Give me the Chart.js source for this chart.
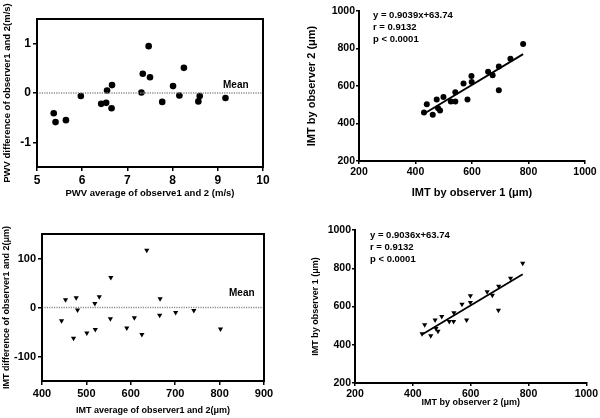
<!DOCTYPE html>
<html><head><meta charset="utf-8">
<script src="https://cdn.jsdelivr.net/npm/chart.js@4"></script>
<style>
html,body{margin:0;padding:0;background:#fff;}
#wrap{position:relative;width:600px;height:418px;}
canvas{position:absolute;}
</style></head>
<body><div id="wrap">
<canvas id="c1" width="300" height="210" style="left:0;top:0"></canvas>
<canvas id="c2" width="300" height="210" style="left:300px;top:0"></canvas>
<canvas id="c3" width="300" height="208" style="left:0;top:210px"></canvas>
<canvas id="c4" width="300" height="208" style="left:300px;top:210px"></canvas>
</div>
<script>
// ---- Data ----
const pwvAvg  = [5.37,5.41,5.64,5.97,6.42,6.53,6.55,6.65,6.66,7.31,7.34,7.47,7.50,7.77,8.01,8.15,8.25,8.60,8.57,9.17];
const pwvDiff = [-0.41,-0.59,-0.55,-0.06,-0.22,-0.20,0.05,-0.31,0.16,0.01,0.39,0.95,0.32,-0.18,0.14,-0.05,0.51,-0.06,-0.17,-0.10];
const pwvMeanX = [5, 10];
const pwvMeanY = [0, 0];
const pwvXTicks = [5,6,7,8,9,10];
const pwvYTicks = [-1,0,1];

const imtObs1 = [430,440,461,475,480,487,499,525,541,541,570,584,598,599,657,673,695,695,736,781];
const imtObs2 = [459,503,447,528,481,470,541,518,518,567,613,528,654,622,676,658,704,578,746,824];
const reg1X = [430, 781];
const reg1Y = [452, 770];
const reg1Text = ["y = 0.9039x+63.74", "r = 0.9132", "p < 0.0001"];

const imtAvg  = [444,453,471,477,480,501,519,520,529,554,555,591,608,625,636,665,666,701,742,802];
const imtDiff = [-27,16,-63,20,-5,-52,8,-45,22,-23,61,-42,-21,-55,117,-16,18,-10,-6,-44];
const imtMeanX = [400, 900];
const imtMeanY = [0, 0];
const baXTicks = [400,500,600,700,800,900];
const baYTicks = [-100,0,100];

const imtObs2b = [432,441,462,477,480,487,500,526,541,542,570,586,599,599,657,675,697,696,738,780];
const imtObs1b = [457,504,447,530,485,470,548,522,522,567,612,529,656,621,677,659,706,581,748,826];
const reg2X = [432, 780];
const reg2Y = [454, 769];
const reg2Text = ["y = 0.9036x+63.74", "r = 0.9132", "p < 0.0001"];

const corrTicks = [200,400,600,800,1000];

const FONT = "'Liberation Sans', Arial, Helvetica, sans-serif";

function pts(xs, ys){ return xs.map((x,i)=>({x:x,y:ys[i]})); }

const framePlugin = {
  id:'frame',
  afterDraw(chart, args, opts){
    if(!opts.on) return;
    const a = chart.chartArea, ctx = chart.ctx;
    ctx.save(); ctx.strokeStyle='#000'; ctx.lineWidth=2;
    ctx.strokeRect(a.left, a.top, a.right-a.left, a.bottom-a.top);
    ctx.restore();
  }
};
const textPlugin = {
  id:'texts',
  afterDraw(chart, args, opts){
    if(!opts.items) return;
    const ctx = chart.ctx, a = chart.chartArea;
    ctx.save(); ctx.fillStyle='#000'; ctx.textBaseline='middle'; ctx.textAlign='left';
    opts.items.forEach(it=>{
      ctx.font = 'bold '+it.size+'px '+FONT;
      it.lines.forEach((t,i)=>{
        ctx.fillText(t, a.left+it.dx, a.top+it.dy+i*it.lh);
      });
    });
    ctx.restore();
  }
};
Chart.register(framePlugin, textPlugin);

function axis(c){
  return {
    type:'linear', min:c.min, max:c.max,
    afterBuildTicks: s=>{ s.ticks = c.ticks.map(v=>({value:v})); },
    afterFit: s=>{ if(c.w!==undefined) s.width=c.w; if(c.h!==undefined) s.height=c.h; },
    ticks:{ color:'#000', font:{family:FONT, size:c.tsize, weight:'bold'}, padding:c.tpad, autoSkip:false, maxRotation:0,
            callback: v => String(v) },
    grid:{ drawOnChartArea:false, drawTicks:true, tickLength:c.tlen, color:'#000', lineWidth:1.5 },
    border:{ display:true, color:'#000', width:2 },
    title:{ display:true, text:c.title, color:'#000', font:{family:FONT, size:c.fsize, weight:'bold'}, padding:c.titlePad }
  };
}

function make(id, cfg){
  new Chart(document.getElementById(id), {
    type:'scatter',
    data:{ datasets: cfg.datasets },
    options:{
      responsive:false, animation:false, devicePixelRatio:1,
      layout:{ padding:{ top:cfg.pt, right:cfg.pr, left:0, bottom:0 } },
      plugins:{ legend:{display:false}, tooltip:{enabled:false}, frame:{on:cfg.frame}, texts:{items:cfg.texts} },
      scales:{ x: axis(cfg.x), y: axis(cfg.y) }
    }
  });
}

const meanStyle = { showLine:true, pointRadius:0, borderColor:'#8a8a8a', borderWidth:1.5, borderDash:[1.2,1.2] };
const regStyle = { showLine:true, pointRadius:0, borderColor:'#000', borderWidth:1.8 };

// Panel 1: PWV Bland-Altman
make('c1', {
  pt:19, pr:37, frame:true,
  texts:[{lines:['Mean'], dx:186, dy:66, lh:0, size:10}],
  datasets:[
    Object.assign({ data: pts(pwvMeanX, pwvMeanY) }, meanStyle),
    { data: pts(pwvAvg, pwvDiff), pointStyle:'circle', pointRadius:3.3, backgroundColor:'#000', borderColor:'#000', borderWidth:0 }
  ],
  x:{min:5, max:10, ticks:pwvXTicks, h:43, tsize:12, tpad:2, tlen:4, title:'PWV average of observe1 and 2 (m/s)', fsize:9.5, titlePad:{top:0,bottom:11}},
  y:{min:-1.5, max:1.5, ticks:pwvYTicks, w:37, tsize:12, tpad:2, tlen:4, title:'PWV difference of observer1 and 2(m/s)', fsize:9.5, titlePad:{top:2,bottom:0}}
});

// Panel 2: observer 1 vs observer 2
make('c2', {
  pt:11, pr:15, frame:false,
  texts:[{lines:reg1Text, dx:14, dy:4, lh:12, size:9.5}],
  datasets:[
    Object.assign({ data: pts(reg1X, reg1Y) }, regStyle),
    { data: pts(imtObs1, imtObs2), pointStyle:'circle', pointRadius:3, backgroundColor:'#000', borderColor:'#000', borderWidth:0 }
  ],
  x:{min:200, max:1000, ticks:corrTicks, h:49, tsize:10.5, tpad:2, tlen:3, title:'IMT by observer 1 (\u03bcm)', fsize:11, titlePad:{top:0,bottom:10}},
  y:{min:200, max:1000, ticks:corrTicks, w:59, tsize:10.5, tpad:1, tlen:3, title:'IMT by observer 2 (\u03bcm)', fsize:11, titlePad:{top:5,bottom:0}}
});

// Panel 3: IMT Bland-Altman
make('c3', {
  pt:24, pr:36, frame:true,
  texts:[{lines:['Mean'], dx:187, dy:59, lh:0, size:10}],
  datasets:[
    Object.assign({ data: pts(imtMeanX, imtMeanY) }, meanStyle),
    { data: pts(imtAvg, imtDiff), pointStyle:'triangle', rotation:180, pointRadius:3, backgroundColor:'#000', borderColor:'#000', borderWidth:0 }
  ],
  x:{min:400, max:900, ticks:baXTicks, h:37, tsize:11, tpad:2, tlen:4, title:'IMT average of observer1 and 2(\u03bcm)', fsize:9, titlePad:{top:0,bottom:2}},
  y:{min:-150, max:150, ticks:baYTicks, w:42, tsize:11, tpad:2, tlen:4, title:'IMT difference of observer1 and 2(\u03bcm)', fsize:9, titlePad:{top:1,bottom:0}}
});

// Panel 4: observer 2 vs observer 1
make('c4', {
  pt:20, pr:13, frame:false,
  texts:[{lines:reg2Text, dx:15, dy:5, lh:12, size:9.5}],
  datasets:[
    Object.assign({ data: pts(reg2X, reg2Y) }, regStyle),
    { data: pts(imtObs2b, imtObs1b), pointStyle:'triangle', rotation:180, pointRadius:3, backgroundColor:'#000', borderColor:'#000', borderWidth:0 }
  ],
  x:{min:200, max:1000, ticks:corrTicks, h:35, tsize:10.5, tpad:2, tlen:3, title:'IMT by observer 2 (\u03bcm)', fsize:9, titlePad:{top:0,bottom:10}},
  y:{min:200, max:1000, ticks:corrTicks, w:55, tsize:10.5, tpad:1, tlen:3, title:'IMT by observer 1 (\u03bcm)', fsize:9, titlePad:{top:10,bottom:0}}
});
</script>
</body></html>
